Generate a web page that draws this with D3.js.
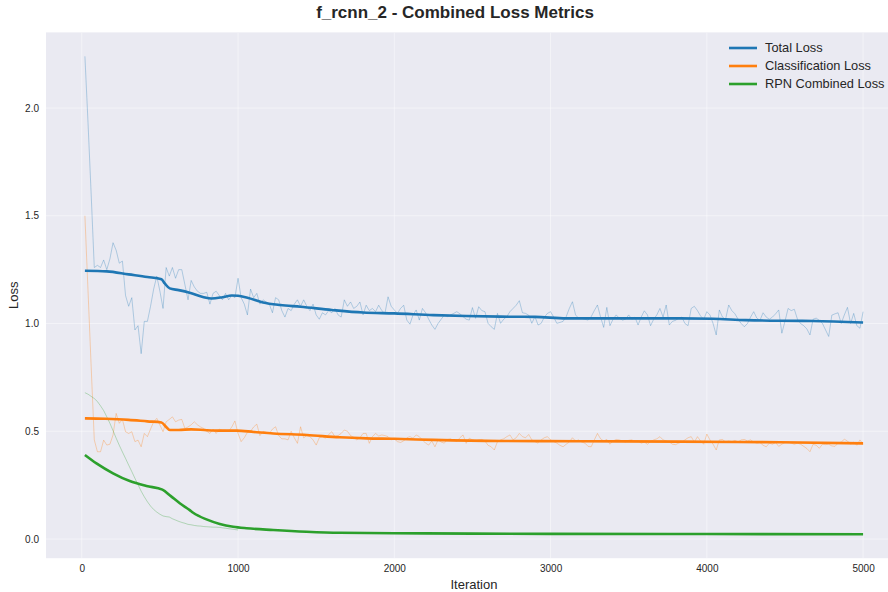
<!DOCTYPE html>
<html><head><meta charset="utf-8">
<script src="https://cdn.jsdelivr.net/npm/d3@7"></script>
<style>
html,body{margin:0;padding:0;background:#fff;}
svg{display:block;font-family:"Liberation Sans",Arial,Helvetica,sans-serif;}
</style></head>
<body>
<svg id="chart" width="888" height="592"></svg>
<script>
// ---------- DATA ----------
const title = "f_rcnn_2 - Combined Loss Metrics";
const seriesNames = ["Total Loss", "Classification Loss", "RPN Combined Loss"];
const xTicks = [0, 1000, 2000, 3000, 4000, 5000];
const yTicks = [0.0, 0.5, 1.0, 1.5, 2.0];

// raw samples every 20 iterations (20..5000)
const rawIters = d3.range(20, 5001, 20);
const totalRaw = [
 2.24,1.93,1.60,1.26,1.27,1.26,1.295,1.25,1.30,1.375,
 1.34,1.28,1.29,1.13,1.08,1.12,0.97,0.99,0.86,1.01,
 1.01,1.08,1.16,1.22,1.15,1.07,1.26,1.22,1.26,1.21,
 1.25,1.25,1.18,1.11,1.20,1.17,1.15,1.14,1.14,1.145,
 1.09,1.14,1.15,1.13,1.11,1.14,1.11,1.13,1.12,1.21,
 1.12,1.09,1.04,1.16,1.12,1.14,1.09,1.11,1.10,1.09,
 1.05,1.12,1.11,1.06,1.03,1.07,1.06,1.09,1.11,1.08,
 1.11,1.08,1.06,1.09,1.04,1.02,1.05,1.04,1.06,1.05,
 1.07,1.04,1.03,1.11,1.08,1.10,1.07,1.08,1.10,1.04,
 1.085,1.06,1.07,1.055,1.085,1.06,1.047,1.124,1.08,1.063,
 1.047,1.07,1.085,1.016,0.997,1.04,1.063,1.016,1.07,1.05,
 1.02,0.993,0.973,1.00,1.02,1.039,1.032,1.04,1.047,1.055,
 1.045,1.032,1.02,1.016,1.074,1.024,1.078,1.06,1.055,1.001,
 0.985,0.973,1.047,1.001,1.02,1.032,1.055,1.07,1.085,1.106,
 1.05,1.047,1.039,1.001,1.032,0.993,1.001,1.03,1.047,1.055,
 1.03,1.001,1.005,1.01,1.032,1.07,1.101,1.04,1.024,1.024,
 1.02,1.016,1.032,1.06,1.086,1.03,0.982,1.075,0.99,1.02,
 1.04,1.025,1.016,1.02,1.04,1.02,1.03,0.993,1.03,1.059,
 1.04,0.99,1.02,1.04,1.07,1.03,1.086,0.993,1.01,1.015,
 1.025,1.03,1.00,0.99,1.07,1.08,1.06,1.035,1.02,1.055,
 1.04,1.00,0.947,1.063,1.03,1.02,1.086,1.06,1.045,1.02,
 1.00,0.985,1.00,1.03,1.055,1.025,1.015,1.05,1.03,1.02,
 1.03,1.045,1.063,0.955,1.01,1.07,1.06,1.066,1.02,1.00,
 0.99,0.975,0.947,1.02,1.025,1.015,1.00,0.97,0.94,1.039,
 1.045,1.05,1.00,1.04,1.075,1.00,1.047,0.99,0.978,1.055
];
const clsRaw = [
 1.50,1.15,0.80,0.46,0.405,0.405,0.459,0.436,0.44,0.483,
 0.583,0.537,0.555,0.498,0.49,0.498,0.452,0.459,0.428,0.49,
 0.475,0.51,0.544,0.56,0.529,0.498,0.544,0.555,0.567,0.544,
 0.552,0.555,0.513,0.52,0.53,0.544,0.53,0.52,0.513,0.50,
 0.49,0.51,0.49,0.51,0.505,0.505,0.50,0.52,0.548,0.49,
 0.452,0.47,0.495,0.50,0.52,0.533,0.48,0.50,0.495,0.49,
 0.51,0.521,0.48,0.465,0.465,0.46,0.50,0.47,0.444,0.521,
 0.47,0.48,0.475,0.46,0.436,0.47,0.475,0.468,0.485,0.498,
 0.475,0.48,0.49,0.506,0.50,0.48,0.472,0.46,0.47,0.49,
 0.49,0.444,0.475,0.49,0.478,0.483,0.48,0.475,0.46,0.465,
 0.452,0.448,0.455,0.47,0.475,0.468,0.483,0.475,0.46,0.445,
 0.436,0.455,0.428,0.46,0.45,0.445,0.462,0.465,0.458,0.452,
 0.47,0.483,0.444,0.468,0.46,0.455,0.46,0.462,0.455,0.435,
 0.428,0.413,0.452,0.46,0.465,0.475,0.483,0.46,0.47,0.49,
 0.475,0.47,0.485,0.46,0.452,0.445,0.46,0.47,0.475,0.46,
 0.452,0.445,0.435,0.428,0.44,0.45,0.47,0.455,0.46,0.45,
 0.445,0.43,0.428,0.46,0.49,0.465,0.455,0.462,0.44,0.455,
 0.462,0.46,0.455,0.45,0.458,0.46,0.452,0.455,0.445,0.45,
 0.44,0.452,0.46,0.465,0.475,0.46,0.455,0.45,0.44,0.438,
 0.445,0.45,0.46,0.47,0.475,0.45,0.475,0.455,0.44,0.487,
 0.46,0.44,0.413,0.46,0.462,0.45,0.455,0.452,0.458,0.45,
 0.46,0.462,0.455,0.46,0.45,0.445,0.448,0.435,0.428,0.445,
 0.44,0.448,0.43,0.44,0.448,0.45,0.445,0.44,0.445,0.44,
 0.43,0.42,0.405,0.44,0.435,0.421,0.44,0.438,0.44,0.432,
 0.43,0.445,0.45,0.463,0.455,0.44,0.45,0.435,0.46,0.44
];
// RPN raw samples (20..1000)
const rpnIters = d3.range(20, 1001, 20);
const rpnRaw = [
 0.679,0.672,0.662,0.652,0.638,0.618,0.596,0.567,0.537,0.503,
 0.468,0.435,0.404,0.374,0.343,0.313,0.282,0.252,0.222,0.196,
 0.173,0.153,0.137,0.125,0.115,0.107,0.104,0.102,0.094,0.088,
 0.082,0.077,0.073,0.068,0.066,0.063,0.061,0.060,0.058,0.057,
 0.056,0.055,0.055,0.054,0.052,0.050,0.048,0.046,0.044,0.042
];

// smoothed curves (read at key iterations)
const totalSmIters = [20,160,300,420,510,531,563,620,690,780,830,900,960,1000,1060,1160,1270,1400,1600,1800,2000,2250,2460,2680,2900,3100,3320,3600,3830,4040,4250,4470,4680,5000];
const totalSm = [1.245,1.242,1.228,1.216,1.205,1.186,1.163,1.155,1.143,1.122,1.116,1.122,1.13,1.129,1.120,1.098,1.086,1.078,1.063,1.051,1.047,1.039,1.035,1.032,1.031,1.024,1.024,1.024,1.024,1.022,1.016,1.013,1.012,1.005];
const clsSmIters = [20,150,300,420,510,540,563,620,700,800,900,990,1100,1225,1440,1650,1820,2000,2250,2680,3190,3830,4470,5000];
const clsSm = [0.560,0.558,0.553,0.546,0.541,0.520,0.506,0.506,0.509,0.505,0.503,0.503,0.497,0.490,0.483,0.472,0.467,0.465,0.460,0.455,0.454,0.452,0.449,0.444];
const rpnSmIters = [20,94,200,307,414,516,570,627,691,713,798,883,969,1054,1225,1438,1652,2000,2500,3000,4000,5000];
const rpnSm = [0.390,0.351,0.305,0.269,0.246,0.229,0.199,0.166,0.134,0.122,0.091,0.070,0.057,0.050,0.042,0.034,0.029,0.027,0.025,0.024,0.023,0.022];

const colors = ["#1f77b4", "#ff7f0e", "#2ca02c"];

// ---------- CHART ----------
const svg = d3.select("#chart");
const plot = {left: 46, right: 902, top: 32.4, bottom: 558.2};

const x = d3.scaleLinear().domain([-229, 5249]).range([plot.left, plot.right]);
const y = d3.scaleLinear().domain([-0.089, 2.351]).range([plot.bottom, plot.top]);

svg.append("defs").append("clipPath").attr("id", "clip")
  .append("rect").attr("x", plot.left).attr("y", plot.top)
  .attr("width", plot.right - plot.left).attr("height", plot.bottom - plot.top);

svg.append("rect").attr("x", plot.left).attr("y", plot.top)
  .attr("width", plot.right - plot.left).attr("height", plot.bottom - plot.top)
  .attr("fill", "#eaeaf2");

// grid
const grid = svg.append("g").attr("clip-path", "url(#clip)");
grid.selectAll("line.gx").data(xTicks).join("line")
  .attr("x1", d => x(d)).attr("x2", d => x(d))
  .attr("y1", plot.top).attr("y2", plot.bottom)
  .attr("stroke", "#ffffff").attr("stroke-opacity", 0.45).attr("stroke-width", 1);
grid.selectAll("line.gy").data(yTicks).join("line")
  .attr("y1", d => y(d)).attr("y2", d => y(d))
  .attr("x1", plot.left).attr("x2", plot.right)
  .attr("stroke", "#ffffff").attr("stroke-opacity", 0.45).attr("stroke-width", 1);

// axes (labels only)
const xAxis = svg.append("g").attr("transform", `translate(0,${plot.bottom})`)
  .call(d3.axisBottom(x).tickValues(xTicks).tickFormat(d3.format("d")).tickSize(0).tickPadding(7));
const yAxis = svg.append("g").attr("transform", `translate(${plot.left},0)`)
  .call(d3.axisLeft(y).tickValues(yTicks).tickFormat(d3.format(".1f")).tickSize(0).tickPadding(7));
[xAxis, yAxis].forEach(a => {
  a.select(".domain").remove();
  a.selectAll("text").attr("fill", "#262626").style("font-size", "10px")
    .style("font-family", "'Liberation Sans',Arial,sans-serif");
});

// lines
const g = svg.append("g").attr("clip-path", "url(#clip)");
const rawLine = d3.line().x(d => x(d[0])).y(d => y(d[1]));
const smLine = d3.line().x(d => x(d[0])).y(d => y(d[1])).curve(d3.curveMonotoneX);

const raws = [
  d3.zip(rawIters, totalRaw),
  d3.zip(rawIters, clsRaw),
  d3.zip(rpnIters, rpnRaw)
];
const sms = [
  d3.zip(totalSmIters, totalSm),
  d3.zip(clsSmIters, clsSm),
  d3.zip(rpnSmIters, rpnSm)
];
raws.forEach((r, i) => {
  g.append("path").datum(r).attr("d", rawLine).attr("fill", "none")
    .attr("stroke", colors[i]).attr("stroke-opacity", 0.3).attr("stroke-width", 1);
});
sms.forEach((s, i) => {
  g.append("path").datum(s).attr("d", smLine).attr("fill", "none")
    .attr("stroke", colors[i]).attr("stroke-width", 2.6).attr("stroke-linejoin", "round");
});

// legend
const leg = svg.append("g").attr("transform", "translate(729,48)");
seriesNames.forEach((n, i) => {
  const row = leg.append("g").attr("transform", `translate(0,${i * 18})`);
  row.append("line").attr("x1", 0).attr("x2", 28).attr("y1", 0).attr("y2", 0)
    .attr("stroke", colors[i]).attr("stroke-width", 2.6);
  row.append("text").attr("x", 36).attr("y", 0).attr("dy", "0.35em")
    .attr("fill", "#262626").style("font-size", "12.8px").text(n);
});

// titles
svg.append("text").attr("x", 455).attr("y", 18).attr("text-anchor", "middle")
  .style("font-size", "17px").style("font-weight", "bold").attr("fill", "#262626").text(title);
svg.append("text").attr("x", (plot.left + plot.right) / 2).attr("y", 589)
  .attr("text-anchor", "middle").style("font-size", "13px").attr("fill", "#262626").text("Iteration");
svg.append("text").attr("transform", `translate(18,${(plot.top + plot.bottom) / 2}) rotate(-90)`)
  .attr("text-anchor", "middle").style("font-size", "13px").attr("fill", "#262626").text("Loss");
</script>
</body></html>
